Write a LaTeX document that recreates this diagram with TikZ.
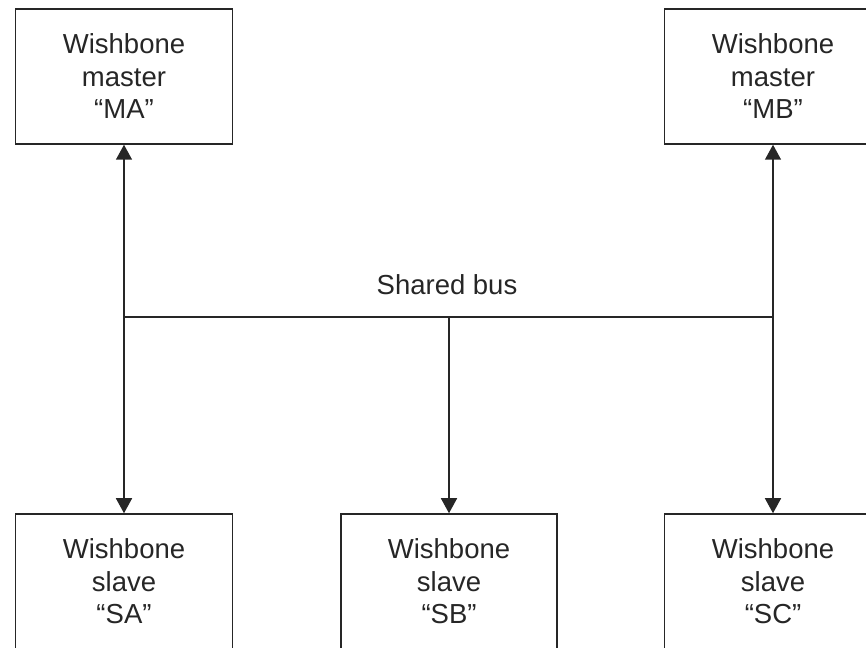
\documentclass[tikz,border=0pt]{standalone}
\usepackage{fontspec}
\setmainfont{Liberation Sans}
\usetikzlibrary{arrows.meta}

\begin{document}
\begin{tikzpicture}[x=0.4pt, y=0.4pt, line width=0.6pt, draw=black!85, text=black!85,
        unit/.style = {draw, rectangle, minimum width=86.8pt, minimum height=54pt,
            inner sep=0pt, align=center, font=\fontsize{11}{13}\selectfont},
        link/.style = {-{Triangle[width=6.4pt,length=6pt]}}]
    \useasboundingbox (0,0) rectangle (866,647);
    \clip (0,0) rectangle (866,647);

    % masters on top, slaves below (partly off the page)
    \node[unit] (MA) at (124,570.5) {Wishbone\\master\\“MA”};
    \node[unit] (MB) at (773,570.5) {Wishbone\\master\\“MB”};
    \node[unit] (SA) at (124,65.5) {Wishbone\\slave\\“SA”};
    \node[unit, minimum width=86.4pt] (SB) at (449,65.5) {Wishbone\\slave\\“SB”};
    \node[unit] (SC) at (773,65.5) {Wishbone\\slave\\“SC”};

    % the bus
    \coordinate (busA) at (124,330);
    \coordinate (busB) at (449,330);
    \coordinate (busC) at (773,330);
    \draw (busA) -- (busC);
    \node[anchor=base, font=\fontsize{11}{13}\selectfont] (bus) at (447,352) {Shared bus};

    \path[link] (busA) edge (MA.south);
    \path[link] (busA) edge (SA.north);
    \path[link] (busB) edge (SB.north);
    \path[link] (busC) edge (MB.south);
    \path[link] (busC) edge (SC.north);
\end{tikzpicture}
\end{document}
